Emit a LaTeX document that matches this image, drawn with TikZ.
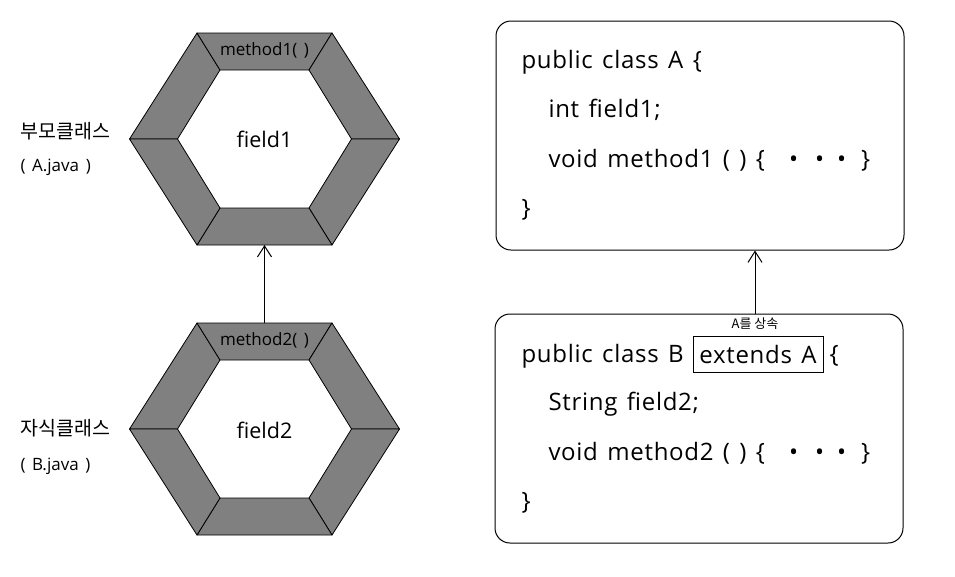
\documentclass[tikz,border=0pt]{standalone}
\usepackage{fontspec}
\setmainfont[WordSpace=1.5]{Open Sans}
\newfontfamily\codefont[WordSpace=1.35,LetterSpace=3]{Open Sans}
\newfontfamily\kr{Noto Sans CJK KR}
\usetikzlibrary{arrows.meta}
\definecolor{hexgray}{RGB}{128,128,128}
\newcommand\hexring{%
  \coordinate (O1) at (-135,0);   \coordinate (O2) at (-67.5,-106);
  \coordinate (O3) at (67.5,-106); \coordinate (O4) at (135,0);
  \coordinate (O5) at (67.5,106);  \coordinate (O6) at (-67.5,106);
  \coordinate (I1) at (-87,0);     \coordinate (I2) at (-44.5,-69);
  \coordinate (I3) at (44.5,-69);  \coordinate (I4) at (87,0);
  \coordinate (I5) at (44.5,69);   \coordinate (I6) at (-44.5,69);
  \foreach \p/\q in {1/2,2/3,3/4,4/5,5/6,6/1}
    \filldraw[hexseg] (O\p) -- (O\q) -- (I\q) -- (I\p) -- cycle;
}
\newcommand\dotsrow{\{\hspace{24pt}•\hspace{17pt}•\hspace{13pt}•\hspace{15pt}\}}
\begin{document}
\begin{tikzpicture}[x=1pt,y=-1pt,line width=1pt,
  hexseg/.style={fill=hexgray,draw=black,line width=0.8pt,line join=round},
  codetext/.style={anchor=base west,inner sep=0pt,font=\codefont\fontsize{24}{26}\selectfont},
  sidelabel/.style={anchor=base west,inner sep=0pt,font=\fontsize{17}{20}\selectfont},
  methodlabel/.style={anchor=base,inner sep=0pt,font=\fontsize{17}{18}\selectfont},
  fieldlabel/.style={anchor=base,inner sep=0pt,font=\fontsize{21.5}{24}\selectfont},
  codebox/.style={draw,rounded corners=15pt,minimum width=408pt,minimum height=229pt,inner sep=0pt},
  inharrow/.style={-{Straight Barb[length=11pt,width=14pt,line width=1pt]},line width=1pt}]
\useasboundingbox (0,0) rectangle (955,576);
\fill[white] (0,0) rectangle (955,576);

% parent hexagon
\begin{scope}[shift={(264.5,139)}]
  \hexring
  \coordinate (hexAbot) at (0,106);
\end{scope}
\node[methodlabel] (mA) at (264.5,55) {method1( )};
\node[fieldlabel] (fA) at (264.5,147) {field1};

% child hexagon
\begin{scope}[shift={(264.5,429)}]
  \hexring
  \coordinate (hexBtop) at (0,-106);
\end{scope}
\node[methodlabel] (mB) at (264.5,345) {method2( )};
\node[fieldlabel] (fB) at (264.5,438) {field2};

\draw[inharrow] (hexBtop) -- (hexAbot);

% side labels
\node[sidelabel] (pA) at (20,138) {\kr\fontsize{19.5}{20}\selectfont 부모클래스};
\node[sidelabel] (pAj) at (20,171) {( A.java )};
\node[sidelabel] (cB) at (20,435) {\kr\fontsize{19.5}{20}\selectfont 자식클래스};
\node[sidelabel] (cBj) at (20,470) {( B.java )};

% code boxes
\node[codebox] (boxA) at (700,135.5) {};
\node[codebox] (boxB) at (699,428.5) {};

\node[codetext] (a1) at (521,68) {public class A \{};
\node[codetext] (a2) at (548,117) {int field1;};
\node[codetext] (a3) at (548,167) {void method1 ( ) \dotsrow};
\node[codetext] (a4) at (521,216) {\}};

\node[codetext] (b1) at (521,362) {public class B};
\node[draw,line width=1pt,minimum width=130pt,minimum height=36pt,inner sep=0pt,
      font=\codefont\fontsize{24}{26}\selectfont] (ext) at (758,354) {extends A};
\node[codetext] (b1b) at (829,362) {\{};
\node[codetext] (b2) at (548,410) {String field2;};
\node[codetext] (b3) at (548,460) {void method2 ( ) \dotsrow};
\node[codetext] (b4) at (521,509) {\}};

\node[anchor=base,inner sep=0pt,font=\kr\fontsize{13}{14}\selectfont] (inh) at (755,328) {A를 상속};
\draw[inharrow] (boxB.north -| inh) -- (boxA.south -| inh);
\end{tikzpicture}
\end{document}
